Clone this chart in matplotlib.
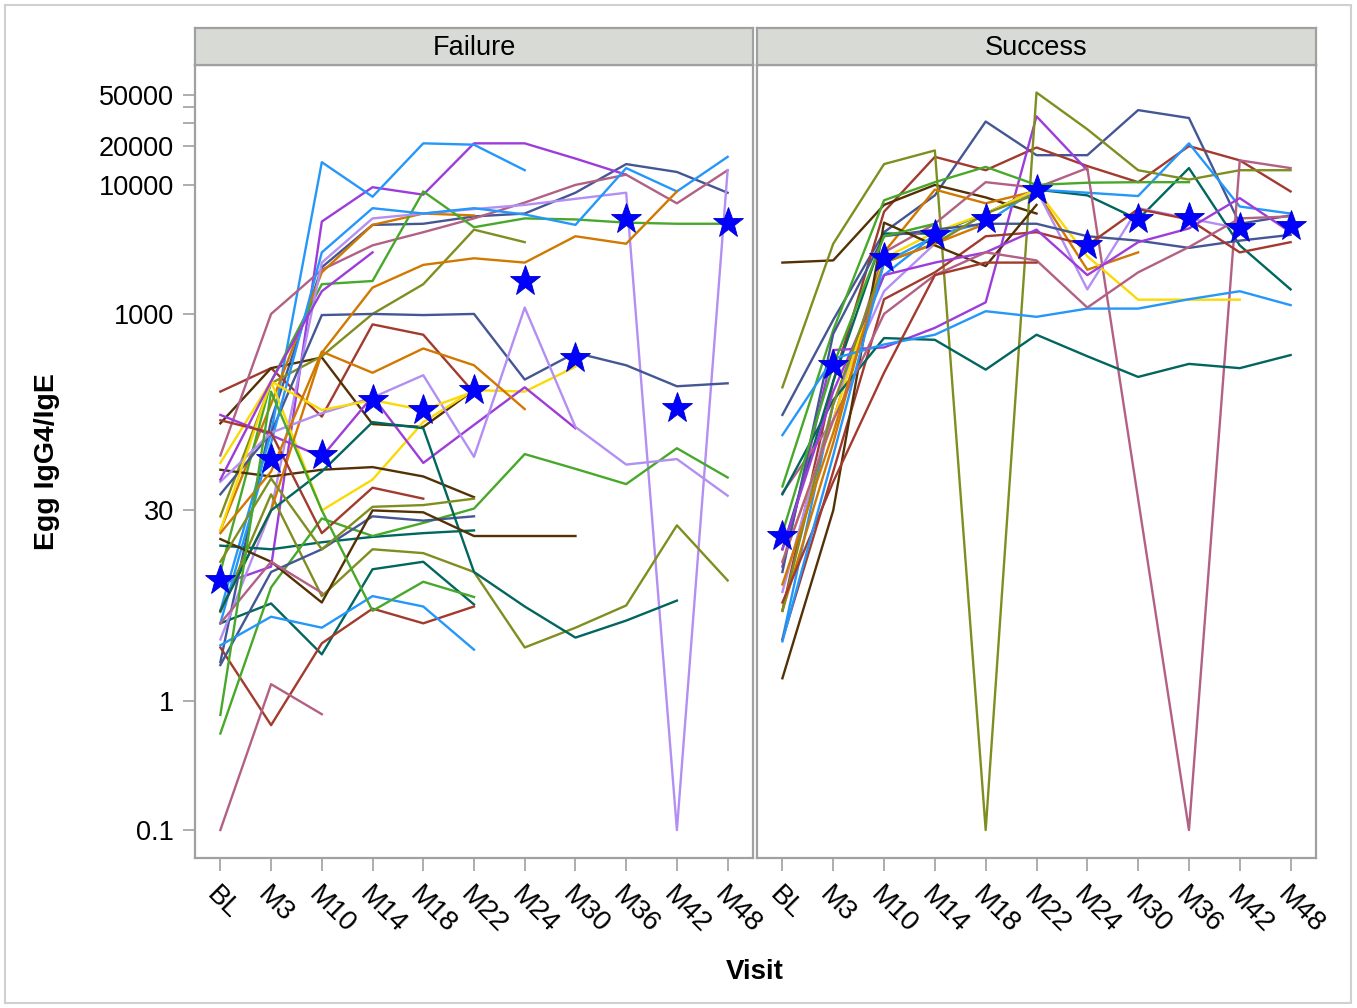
import matplotlib
matplotlib.use("Agg")
import matplotlib.pyplot as plt
from matplotlib.patches import Rectangle
from matplotlib.ticker import FixedLocator, FixedFormatter, NullLocator

N = None

VISITS = ["BL", "M3", "M10", "M14", "M18", "M22", "M24", "M30", "M36", "M42", "M48"]

# SAS-style group colours
PALETTE = ["#445694", "#A23A2E", "#01665E", "#543005", "#9D3CDB", "#7F8E1F",
           "#2597FA", "#B26084", "#D17800", "#47A82A", "#B38EF3", "#F9DA04"]

# ---- Failure group: one list per subject (Egg IgG4/IgE by visit) ----
FAILURE_SUBJECTS = [
    [2, 150, 2300, 4900, 5000, 5700, 6000, 8700, 14500, 12600, 8700],
    [250, 380, 160, 830, 690, 245],
    [4, 5.7, 2.3, 10.5, 12, 5.6],
    [142, 380, 460, 140, 133, 257],
    [8, 11, 5200, 9600, 8400, 21000, 21000, 16000, 12000],
    [27, 290, 470, 1000, 1700, 4500, 3600],
    [5, 120, 15000, 8100, 21000, 20500, 13000],
    [80, 1000, 2200, 3400, 4300, 5500, 7300, 10000, 12000, 7200, 13000],
    [21, 200, 2100, 4900, 6000, 5800],
    [10, 300, 1700, 1800, 8900, 4700, 5500, 5400, 5100, 5000, 5000],
    [3, 30, 2500, 5500, 6000, 6500, 7000, 7800, 8700, 0.1, 13000],
    [70, 300, 30, 52, 145, 257, 250, 390],
    [40, 120, 980, 1000, 980, 1000, 310, 500, 400, 275, 290],
    [2.6, 0.65, 2.8, 5.2, 4.0, 5.4],
    [16, 15, 17, 18.7, 20, 21],
    [62, 55, 62, 65, 55, 38],
    [165, 115, 78, 230, 70, 138, 270, 130],
    [4.9, 40, 6.5, 15, 14, 10, 2.6, 3.7, 5.5, 23, 8.6],
    [4, 100, 3000, 6600, 6000, 6600, 5900, 4900, 13500, 8900, 16500],
    [0.1, 1.35, 0.79],
    [5, 30, 500, 1600, 2400, 2700, 2500, 4000, 3500, 8900],
    [0.56, 7.6, 26, 19, 24, 31, 82, 63, 48, 91, 54],
    [50, 120, 170, 225, 335, 78, 1120, 133, 68, 75, 39],
    [21, 300, 180, 215, 180, 250],
    [1.9, 10, 15, 27, 25, 27],
    [150, 120, 20, 45, 37],
    [5, 30, 60, 145, 130, 10, 5.4, 3.1, 4.2, 6.0],
    [18, 12, 5.8, 30, 29, 19, 19, 19],
    [52, 300, 1500, 3000],
    [12, 53, 15, 32, 33, 37],
    [2.7, 4.5, 3.7, 6.5, 5.4, 2.5],
    [4, 12, 6.9],
    [20, 60, 510, 350, 540, 400, 183],
    [0.78, 250, 30, 5, 8.4, 6.4],
]
FAILURE_COLOR_IDX = [0, 1, 2, 3, 4, 5, 6, 7, 8, 9, 10, 11,
                     0, 1, 2, 3, 4, 5, 6, 7, 8, 9, 10, 11,
                     0, 1, 2, 3, 4, 5, 6, 7, 8, 9]
FAILURE_CENTER = [8.7, 75, 81, 215, 180, 257, 1800, 455, 5400, 187, 5100]

# ---- Success group ----
SUCCESS_SUBJECTS = [
    [165, 900, 4300, 8300, 31000, 17000, 17000, 38000, 33000, 5000, 5800],
    [5, 300, 6200, 16500, 13000, 19500, 14000, 10500, 20000, 15500, 8900],
    [15, 300, 4200, 4200, 6000, 9200, 8300, 5400, 13500, 3400, 1550],
    [2500, 2600, 7000, 10000, 8000, 6000],
    [11, 525, 550, 780, 1230, 34000, 13000],
    [270, 3500, 14500, 18500, 0.1, 52000, 27000, 13000, 11000, 13000, 13000],
    [3, 200, 2000, 4100, 5100, 9200, 8700, 8200, 21000, 6800, 6000],
    [41, 150, 3000, 5000, 10500, 9500, 13500, N, 0.1, 15500, 13500],
    [5, 100, 3000, 9200, 7200, 9000, 2200, 3000],
    [46, 750, 7600, 10500, 13800, 10000, 10400, 10500, 10500],
    [7, 200, 1500, 3500, 6000, 9200, 1550, 6600, 5500, 4600],
    [12, 150, 2700, 4300, 6000, 9200, 2800, 1290, 1290, 1290],
    [10, 700, 4000, 4500, 5000, 5000, 4000, 3700, 3250, 3700, 4100],
    [3, 60, 1300, 2100, 4000, 4300, 3400, 6500, 5400, 3000, 3600],
    [40, 215, 650, 630, 370, 690, 470, 325, 410, 380, 480],
    [1.5, 30, 5100, 3400, 2350, 7000],
    [15, 250, 2000, 2500, 3000, 4500, 2000, 3600, 4600, 7900, 4300],
    [5, 200, 2500, 3500, 6000, 8500],
    [115, 450, 580, 690, 1050, 950, 1100, 1100, 1300, 1500, 1170],
    [12, 150, 1000, 2000, 3000, 2600, 1120, 2100, 3300, 5500, 5700],
    [8, 120, 2500, 3500, 5000],
    [20, 400, 4000, 5000],
    [5.8, 50, 350, 2000, 2500, 2500],
    [2.9, 80, 2500, 4000],
]
SUCCESS_COLOR_IDX = [0, 1, 2, 3, 4, 5, 6, 7, 8, 9, 10, 11,
                     0, 1, 2, 3, 4, 5, 6, 7, 8, 9, 1, 6]
SUCCESS_CENTER = [19, 400, 2700, 4100, 5400, 9100, 3400, 5400, 5500, 4600, 4800]

Y_TICKS = [0.1, 1, 30, 1000, 10000, 20000, 30000, 40000, 50000]
Y_TICK_LABELS = ["0.1", "1", "30", "1000", "10000", "20000", "", "", "50000"]

PANELS = ["Failure", "Success"]

plt.rcParams["font.family"] = ["Liberation Sans", "DejaVu Sans"]
FS = 19.5
GRID_GREY = "#A0A0A0"

W, H = 1357, 1008
fig = plt.figure(figsize=(W / 100, H / 100), dpi=100)


def fx(px):
    return px / W


def fy(py):
    return 1 - py / H


panel_x = [(195, 753), (757, 1316)]
top_px, bottom_px, strip_top = 65, 858, 28

data = [(FAILURE_SUBJECTS, FAILURE_COLOR_IDX, FAILURE_CENTER),
        (SUCCESS_SUBJECTS, SUCCESS_COLOR_IDX, SUCCESS_CENTER)]

for k, ((x0, x1), title, (subjects, cidx, center)) in enumerate(zip(panel_x, PANELS, data)):
    ax = fig.add_axes([fx(x0), fy(bottom_px), fx(x1 - x0), (bottom_px - top_px) / H])
    ax.set_yscale("log")
    ax.set_xlim(-0.5, len(VISITS) - 0.5)
    ax.set_ylim(0.0607, 85000)

    for s, ci in zip(subjects, cidx):
        xs = [i for i, v in enumerate(s) if v is not None]
        ys = [v for v in s if v is not None]
        ax.plot(xs, ys, color=PALETTE[ci], lw=1.7, zorder=2)

    ax.plot(range(len(VISITS)), center, linestyle="none", marker="*", ms=23,
            color="#0000FF", mec="#0000C8", mew=0.6, zorder=5)

    ax.set_xticks(range(len(VISITS)))
    ax.set_xticklabels(VISITS, rotation=-45, ha="left", va="top",
                       rotation_mode="anchor", fontsize=20)
    ax.yaxis.set_major_locator(FixedLocator(Y_TICKS))
    ax.yaxis.set_minor_locator(NullLocator())
    if k == 0:
        ax.yaxis.set_major_formatter(FixedFormatter(Y_TICK_LABELS))
        ax.tick_params(axis="y", labelsize=FS, length=9, width=1.2,
                       color=GRID_GREY, pad=6)
    else:
        ax.tick_params(axis="y", left=False, labelleft=False)
    ax.tick_params(axis="x", length=9, width=1.2, color=GRID_GREY, pad=8)
    for sp in ax.spines.values():
        sp.set_color(GRID_GREY)
        sp.set_linewidth(1.6)

    # panel header strip
    sax = fig.add_axes([fx(x0), fy(top_px), fx(x1 - x0), (top_px - strip_top) / H])
    sax.set_facecolor("#D8DBD5")
    sax.set_xticks([])
    sax.set_yticks([])
    for sp in sax.spines.values():
        sp.set_color(GRID_GREY)
        sp.set_linewidth(1.6)
    sax.text(0.5, 0.47, title, transform=sax.transAxes, ha="center", va="center",
             fontsize=FS)

fig.text(fx(47), fy(462), "Egg IgG4/IgE", rotation=90, ha="center", va="center",
         fontsize=20.5, fontweight="bold")
fig.text(fx(755), fy(972), "Visit", ha="center", va="center",
         fontsize=20, fontweight="bold")

fig.patches.append(Rectangle((fx(5), fy(1003)), fx(1346), (1003 - 5) / H,
                             transform=fig.transFigure, fill=False,
                             edgecolor="#D0D0D0", lw=1.5))

fig.savefig("out.png", dpi=100)
